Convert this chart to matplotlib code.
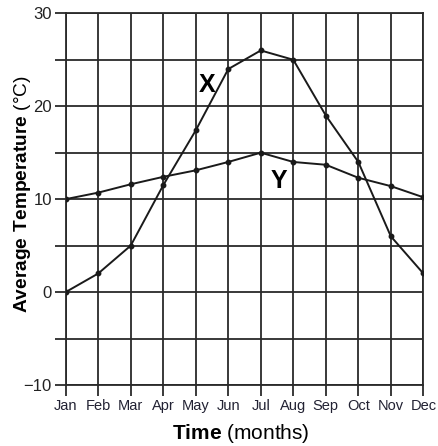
import matplotlib
matplotlib.use("Agg")
import matplotlib.pyplot as plt
import numpy as np

months = ["Jan", "Feb", "Mar", "Apr", "May", "Jun", "Jul", "Aug", "Sep", "Oct", "Nov", "Dec"]
x_temps = [0, 2, 5, 11.5, 17.4, 24, 26, 25, 19, 14, 6, 2]
y_temps = [10, 10.7, 11.6, 12.4, 13.1, 14, 15, 14, 13.7, 12.3, 11.4, 10.2]
y_ticks = [-10, -5, 0, 5, 10, 15, 20, 25, 30]
y_labels = ["\u221210", "", "0", "", "10", "", "20", "", "30"]

plt.rcParams['font.family'] = ['Liberation Sans', 'DejaVu Sans']
plt.rcParams['mathtext.fontset'] = 'custom'
plt.rcParams['mathtext.bf'] = 'Liberation Sans:bold'
plt.rcParams['mathtext.rm'] = 'Liberation Sans'

fig = plt.figure(figsize=(4.39, 4.46), dpi=100)
ax = fig.add_axes([0.1497, 0.1368, 0.8146, 0.8334])

xs = np.arange(len(months))
gc = "#2a2a2a"
ax.plot(xs, x_temps, color="#1a1a1a", lw=1.4, marker="o", ms=3.2, zorder=3)
ax.plot(xs, y_temps, color="#1a1a1a", lw=1.4, marker="o", ms=3.2, zorder=3)

ax.set_xlim(0, 11)
ax.set_ylim(-10, 30)
ax.set_xticks(xs)
ax.set_xticklabels(months, fontsize=10.5, color="#222233")
ax.set_yticks(y_ticks)
ax.set_yticklabels(y_labels, fontsize=12, color="#222222")
ax.grid(True, color=gc, lw=1.3)
ax.tick_params(axis='both', length=8, width=1.3, color=gc, direction='out', pad=2)
for s in ax.spines.values():
    s.set_color(gc)
    s.set_linewidth(1.3)

ax.text(4.35, 22.3, "X", fontsize=18, fontweight='bold', ha='center', va='center')
ax.text(6.56, 12.0, "Y", fontsize=18, fontweight='bold', ha='center', va='center')

ax.set_ylabel("$\\bf{Average\\ Temperature}$ (\u00b0C)", fontsize=13.8)
ax.yaxis.set_label_coords(-0.091, 0.514)
ax.set_xlabel("$\\bf{Time}$ (months)", fontsize=15)
ax.xaxis.set_label_coords(0.49, -0.100)

fig.savefig("out.png", dpi=100)
